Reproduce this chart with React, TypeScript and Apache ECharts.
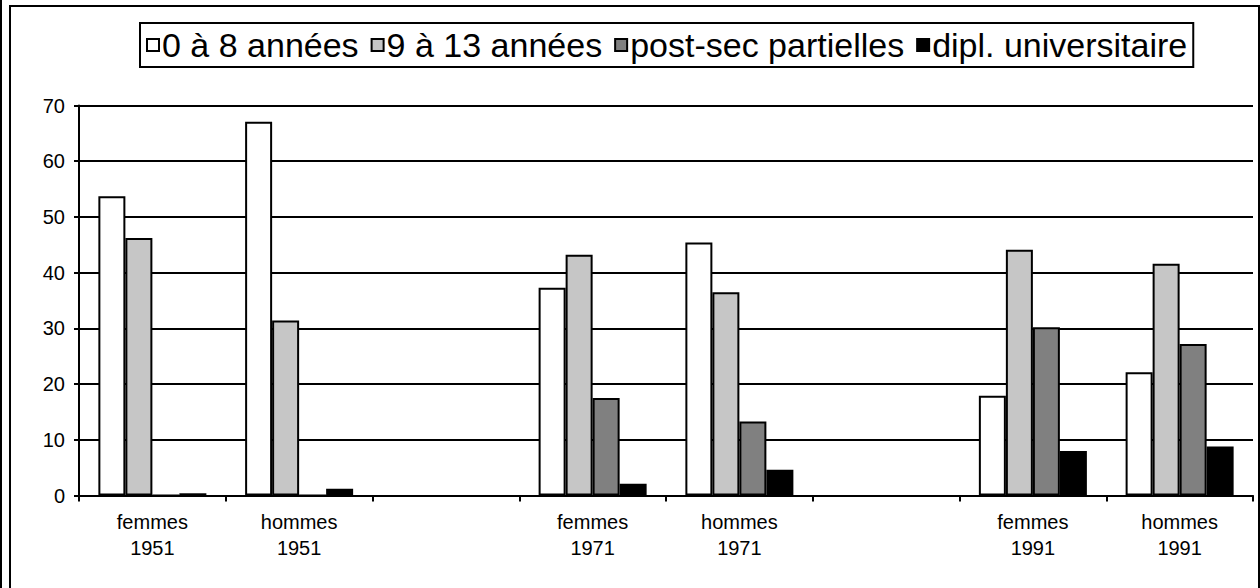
import React, { useEffect, useRef } from "react";
import * as echarts from "echarts";

const categories = [
  "femmes\n1951",
  "hommes\n1951",
  "",
  "femmes\n1971",
  "hommes\n1971",
  "",
  "femmes\n1991",
  "hommes\n1991",
];
const seriesNames = ["0 à 8 années", "9 à 13 années", "post-sec partielles", "dipl. universitaire"];
const annees0a8 = [53.7, 67.1, null, 37.3, 45.4, null, 17.9, 22.1];
const annees9a13 = [46.2, 31.4, null, 43.2, 36.5, null, 44.1, 41.6];
const postSecPartielles = [0, 0, null, 17.5, 13.3, null, 30.2, 27.2];
const diplUniversitaire = [0.4, 1.2, null, 2.1, 4.6, null, 8.0, 8.8];
const seriesColors = ["#ffffff", "#c6c6c6", "#808080", "#000000"];
const yMin = 0;
const yMax = 70;
const yStep = 10;

const FONT = "'Liberation Sans', Arial, sans-serif";

export default function App() {
  const ref = useRef<HTMLDivElement>(null);
  useEffect(() => {
    document.body.style.margin = "0";
    const chart = echarts.init(ref.current!, null, { renderer: "svg" });
    const values = [annees0a8, annees9a13, postSecPartielles, diplUniversitaire];
    chart.setOption({
      animation: false,
      backgroundColor: "#ffffff",
      textStyle: { fontFamily: FONT, color: "#000" },
      graphic: [
        { type: "rect", left: 0, top: 0, shape: { width: 2, height: 588 }, style: { fill: "#000" }, silent: true },
        {
          type: "rect",
          x: 10,
          y: 6,
          shape: { width: 1249, height: 700 },
          style: { fill: "none", stroke: "#000", lineWidth: 2 },
          silent: true,
        },
      ],
      legend: {
        left: 140,
        top: 23,
        data: seriesNames,
        icon: "rect",
        itemWidth: 12,
        itemHeight: 12,
        itemGap: 12,
        padding: [5, 6, 5, 6],
        borderColor: "#000",
        borderWidth: 2,
        textStyle: { fontFamily: FONT, fontSize: 34, color: "#000", padding: [0, 0, 0, -2] },
      },
      grid: { left: 79, right: 7, top: 105.5, bottom: 92.5, containLabel: false },
      xAxis: {
        type: "category",
        data: categories,
        axisLine: { lineStyle: { color: "#000", width: 2 } },
        axisTick: { show: true, length: 6, lineStyle: { color: "#000", width: 2 } },
        axisLabel: { interval: 0, fontSize: 20, lineHeight: 26, margin: 13, color: "#000", fontFamily: FONT },
      },
      yAxis: {
        type: "value",
        min: yMin,
        max: yMax,
        interval: yStep,
        axisLine: { show: true, lineStyle: { color: "#000", width: 2 } },
        axisTick: { show: true, length: 5, lineStyle: { color: "#000", width: 2 } },
        axisLabel: { fontSize: 20, margin: 14, color: "#000", fontFamily: FONT },
        splitLine: { show: true, lineStyle: { color: "#000", width: 2 } },
      },
      series: seriesNames.map((name, i) => ({
        name,
        type: "bar",
        data: values[i],
        barGap: "0%",
        barCategoryGap: "26.4%",
        itemStyle: { color: seriesColors[i], borderColor: "#000", borderWidth: 2 },
      })),
    });
    return () => chart.dispose();
  }, []);
  return <div ref={ref} style={{ position: "absolute", left: 0, top: 0, width: 1260, height: 588 }} />;
}
